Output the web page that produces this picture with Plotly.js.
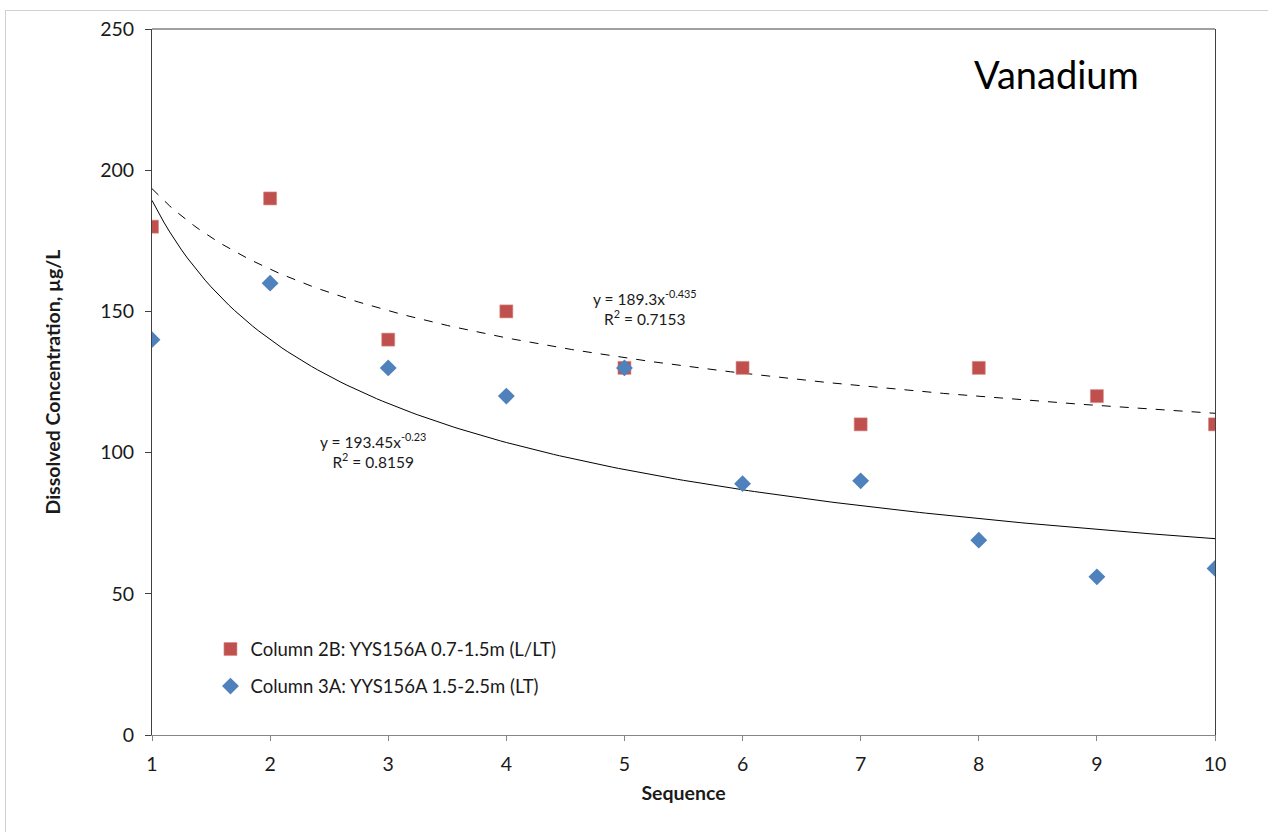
<!DOCTYPE html>
<html>
<head>
<meta charset="utf-8">
<script src="https://cdn.plot.ly/plotly-3.0.1.min.js"></script>
<style>
  html, body { margin: 0; padding: 0; background: #fff; overflow: hidden; }
  #chart { position: absolute; left: 0; top: 0; width: 1268px; height: 832px; }
  #frame { position: absolute; left: 5px; top: 10px; width: 1300px; height: 900px;
           border-top: 1px solid #d0d0d0; border-left: 1px solid #d0d0d0; pointer-events: none; }
</style>
</head>
<body>
<div id="chart"></div>
<div id="frame"></div>
<script>
// Data
const sequence = [1, 2, 3, 4, 5, 6, 7, 8, 9, 10];
const column2B = [180, 190, 140, 150, 130, 130, 110, 130, 120, 110];
const column3A = [140, 160, 130, 120, 130, 89, 90, 69, 56, 59];
const seriesNames = ["Column 2B: YYS156A 0.7-1.5m (L/LT)", "Column 3A: YYS156A 1.5-2.5m (LT)"];
// Power trendline coefficients (y = a * x^b)
const trend2B = { a: 193.45, b: -0.23 };
const trend3A = { a: 189.3, b: -0.435 };
const yTicks = [0, 50, 100, 150, 200, 250];

function trendPoints(t) {
  const xs = [], ys = [];
  for (let i = 0; i <= 180; i++) {
    const x = 1 + i * 0.05;
    xs.push(x);
    ys.push(t.a * Math.pow(x, t.b));
  }
  return { xs, ys };
}
const t2B = trendPoints(trend2B);
const t3A = trendPoints(trend3A);

const font = "Lato, 'Open Sans', sans-serif";
const txt = "#1a1a1a";

const traces = [
  { x: t2B.xs, y: t2B.ys, mode: "lines", line: { color: "#000", width: 1, dash: "dash" },
    showlegend: false, hoverinfo: "skip" },
  { x: t3A.xs, y: t3A.ys, mode: "lines", line: { color: "#000", width: 1 },
    showlegend: false, hoverinfo: "skip" },
  { x: sequence, y: column2B, mode: "markers", name: seriesNames[0], legendgroup: "a", legendrank: 1,
    marker: { symbol: "square", size: 13, color: "#C0504D", line: { color: "#D58A88", width: 0.6 } } },
  { x: sequence, y: column3A, mode: "markers", name: seriesNames[1], legendgroup: "b", legendrank: 2,
    marker: { symbol: "diamond", size: 13, color: "#4F81BD" } }
];

const layout = {
  width: 1268, height: 832,
  margin: { l: 152, r: 53, t: 29, b: 97 },
  paper_bgcolor: "#fff", plot_bgcolor: "#fff",
  font: { family: font, color: txt, size: 16 },
  showlegend: true,
  legend: {
    x: 0.055, y: 0.148, xanchor: "left", yanchor: "top",
    traceorder: "grouped", tracegroupgap: 10,
    font: { family: font, size: 18.5, color: txt },
    bgcolor: "rgba(0,0,0,0)", itemwidth: 30
  },
  xaxis: {
    range: [1, 10], tickvals: sequence, ticktext: sequence.map(String),
    showgrid: false, zeroline: false,
    showline: true, linecolor: "#868686", linewidth: 1,
    ticks: "outside", ticklen: 5, tickcolor: "#868686",
    ticklabelstandoff: 7,
    tickfont: { family: font, size: 19.5, color: txt },
    title: { text: "<b>Sequence</b>", font: { family: font, size: 19.5, color: txt }, standoff: 11 }
  },
  yaxis: {
    range: [0, 250], tickvals: yTicks, ticktext: yTicks.map(String),
    showgrid: false, zeroline: false,
    showline: true, linecolor: "#404040", linewidth: 1, mirror: true,
    ticks: "outside", ticklen: 6, tickcolor: "#404040",
    ticklabelstandoff: 7,
    tickfont: { family: font, size: 19.5, color: txt },
    title: { text: "<b>Dissolved Concentration, µg/L</b>", font: { family: font, size: 19.5, color: txt }, standoff: 34 }
  },
  shapes: [
    { type: "line", xref: "paper", yref: "paper", x0: 0, x1: 1, y0: 1, y1: 1,
      line: { color: "#404040", width: 1 } }
  ],
  annotations: [
    { x: 8.66, y: 234, xref: "x", yref: "y", text: "Vanadium", showarrow: false,
      font: { family: font, size: 38, color: "#000" } },
    { x: 5.17, y: 151.5, xref: "x", yref: "y", showarrow: false, align: "center",
      text: "y = 189.3x<sup>-0.435</sup><br>R<sup>2</sup> = 0.7153",
      font: { family: font, size: 15.5, color: txt } },
    { x: 2.87, y: 100.6, xref: "x", yref: "y", showarrow: false, align: "center",
      text: "y = 193.45x<sup>-0.23</sup><br>R<sup>2</sup> = 0.8159",
      font: { family: font, size: 15.5, color: txt } }
  ]
};

Plotly.newPlot("chart", traces, layout, { displayModeBar: false, staticPlot: true });
</script>
</body>
</html>
